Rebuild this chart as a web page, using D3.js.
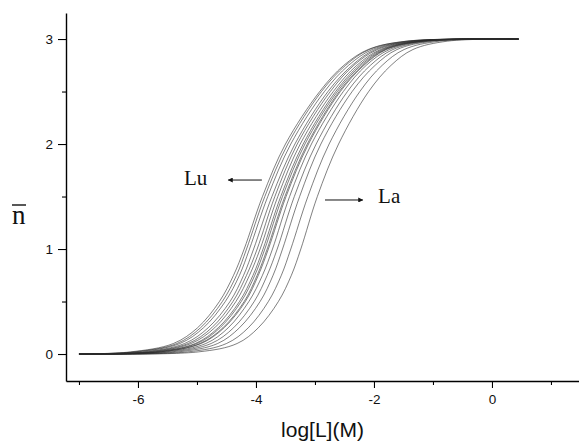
<!DOCTYPE html>
<html>
<head>
<meta charset="utf-8">
<script src="https://cdn.jsdelivr.net/npm/d3@7"></script>
<style>
  html, body { margin: 0; padding: 0; background: #fff; }
  svg { display: block; }
</style>
</head>
<body>
<div id="chart"></div>
<script>
const nbarLevels = [0.02, 0.1, 0.25, 0.5, 0.75, 1.0, 1.5, 2.0, 2.5, 2.75, 2.9, 2.98]

// log[L] where each curve reaches the level above (Lu first ... La last)
const curveLu  = [-6.13, -5.40, -4.99, -4.62, -4.38, -4.20, -3.89, -3.50, -2.92, -2.51, -2.10, -1.45]
const curve2   = [-6.07, -5.34, -4.94, -4.57, -4.33, -4.16, -3.85, -3.46, -2.89, -2.48, -2.08, -1.43]
const curve3   = [-6.02, -5.29, -4.89, -4.52, -4.28, -4.11, -3.80, -3.41, -2.84, -2.43, -2.03, -1.38]
const curve4   = [-5.92, -5.21, -4.81, -4.44, -4.21, -4.04, -3.73, -3.34, -2.78, -2.37, -1.98, -1.33]
const curve5   = [-5.85, -5.15, -4.75, -4.39, -4.16, -3.98, -3.68, -3.30, -2.74, -2.34, -1.94, -1.31]
const curve6   = [-5.80, -5.10, -4.70, -4.34, -4.11, -3.93, -3.63, -3.25, -2.69, -2.29, -1.89, -1.26]
const curve7   = [-5.73, -5.03, -4.64, -4.28, -4.05, -3.88, -3.58, -3.20, -2.65, -2.25, -1.86, -1.23]
const curve8   = [-5.70, -5.00, -4.61, -4.25, -4.02, -3.85, -3.55, -3.17, -2.62, -2.22, -1.83, -1.20]
const curve9   = [-5.64, -4.95, -4.56, -4.20, -3.98, -3.81, -3.51, -3.13, -2.59, -2.19, -1.81, -1.18]
const curve10  = [-5.62, -4.93, -4.54, -4.18, -3.96, -3.79, -3.49, -3.11, -2.57, -2.17, -1.79, -1.16]
const curve11  = [-5.54, -4.85, -4.47, -4.12, -3.89, -3.72, -3.43, -3.06, -2.52, -2.13, -1.74, -1.13]
const curve12  = [-5.44, -4.76, -4.38, -4.03, -3.81, -3.64, -3.35, -2.98, -2.45, -2.06, -1.68, -1.07]
const curve13  = [-5.32, -4.65, -4.28, -3.93, -3.71, -3.55, -3.26, -2.90, -2.37, -1.98, -1.61, -1.00]
const curve14  = [-5.16, -4.50, -4.13, -3.79, -3.57, -3.41, -3.12, -2.76, -2.24, -1.86, -1.49, -0.89]
const curveLa  = [-4.98, -4.32, -3.96, -3.62, -3.40, -3.24, -2.96, -2.60, -2.09, -1.71, -1.34, -0.75]

const curves = [curveLu, curve2, curve3, curve4, curve5, curve6, curve7, curve8,
  curve9, curve10, curve11, curve12, curve13, curve14, curveLa]

// every curve starts flat at n=0 and ends flat at n=3
const startPoint = [-7, 0]
const endPoint = [0.45, 3]

const xMajorTicks = [-6, -4, -2, 0]
const xMinorTicks = [-7, -5, -3, -1, 1]
const yMajorTicks = [0, 1, 2, 3]
const yMinorTicks = [0.5, 1.5, 2.5]

const width = 579
const height = 443

const svg = d3.select('#chart')
  .append('svg')
  .attr('width', width)
  .attr('height', height)

const x = d3.scaleLinear()
  .domain([-7.22, 1.475])
  .range([66, 579])

const y = d3.scaleLinear()
  .domain([-0.257, 3.248])
  .range([381, 13])

const line = d3.line()
  .x(d => x(d[0]))
  .y(d => y(d[1]))
  .curve(d3.curveCatmullRom.alpha(0.5))

// curves
svg.append('g')
  .selectAll('path')
  .data(curves)
  .enter()
  .append('path')
  .attr('d', c => line([startPoint, ...c.map((v, i) => [v, nbarLevels[i]]), endPoint]))
  .attr('fill', 'none')
  .attr('stroke', '#2a2a2a')
  .attr('stroke-width', 0.6)

// axes
const tickFont = '"Liberation Sans", Arial, sans-serif'
const minus = d => d < 0 ? '-' + Math.abs(d) : String(d)

const xAxis = svg.append('g')
  .attr('transform', `translate(0,${y.range()[0]})`)
  .call(d3.axisBottom(x).tickValues(xMajorTicks).tickSize(7).tickSizeOuter(0).tickFormat(minus))
xAxis.select('.domain').attr('stroke-width', 1.4)
xAxis.selectAll('.tick line').attr('stroke-width', 1.1)
xAxis.selectAll('.tick text')
  .attr('font-family', tickFont)
  .attr('font-size', 13.5)
  .attr('fill', '#111')
  .attr('dy', '0.95em')

svg.append('g')
  .attr('transform', `translate(0,${y.range()[0]})`)
  .call(d3.axisBottom(x).tickValues(xMinorTicks).tickSize(4).tickFormat(''))
  .call(g => g.select('.domain').remove())
  .selectAll('.tick line').attr('stroke-width', 1.1)

const yAxis = svg.append('g')
  .attr('transform', `translate(${x.range()[0]},0)`)
  .call(d3.axisLeft(y).tickValues(yMajorTicks).tickSize(8).tickSizeOuter(0).tickPadding(5).tickFormat(minus))
yAxis.select('.domain').attr('stroke-width', 1.4)
yAxis.selectAll('.tick line').attr('stroke-width', 1.1)
yAxis.selectAll('.tick text')
  .attr('font-family', tickFont)
  .attr('font-size', 13.5)
  .attr('fill', '#111')

svg.append('g')
  .attr('transform', `translate(${x.range()[0]},0)`)
  .call(d3.axisLeft(y).tickValues(yMinorTicks).tickSize(4).tickFormat(''))
  .call(g => g.select('.domain').remove())
  .selectAll('.tick line').attr('stroke-width', 1.1)

// axis titles
svg.append('text')
  .attr('x', (x.range()[0] + x.range()[1]) / 2)
  .attr('y', 437)
  .attr('text-anchor', 'middle')
  .attr('font-family', tickFont)
  .attr('font-size', 21)
  .attr('fill', '#111')
  .text('log[L](M)')

const serif = '"Liberation Serif", "Times New Roman", serif'

svg.append('text')
  .attr('x', 12)
  .attr('y', 224)
  .attr('font-family', serif)
  .attr('font-size', 27)
  .attr('fill', '#111')
  .text('n')

svg.append('line')
  .attr('x1', 12).attr('x2', 26)
  .attr('y1', 205).attr('y2', 205)
  .attr('stroke', '#111')
  .attr('stroke-width', 1.4)

// Lu / La annotations
svg.append('defs').append('marker')
  .attr('id', 'head')
  .attr('viewBox', '0 0 10 10')
  .attr('refX', 9).attr('refY', 5)
  .attr('markerWidth', 7).attr('markerHeight', 5)
  .attr('markerUnits', 'userSpaceOnUse')
  .attr('orient', 'auto')
  .append('path')
  .attr('d', 'M0,0L10,5L0,10Z')
  .attr('fill', '#111')

svg.append('text')
  .attr('x', x(-5.22)).attr('y', y(1.61))
  .attr('font-family', serif)
  .attr('font-size', 21)
  .attr('fill', '#111')
  .text('Lu')

svg.append('line')
  .attr('x1', x(-3.9)).attr('x2', x(-4.47))
  .attr('y1', y(1.657)).attr('y2', y(1.657))
  .attr('stroke', '#111')
  .attr('stroke-width', 1)
  .attr('marker-end', 'url(#head)')

svg.append('text')
  .attr('x', x(-1.93)).attr('y', y(1.438))
  .attr('font-family', serif)
  .attr('font-size', 21)
  .attr('fill', '#111')
  .text('La')

svg.append('line')
  .attr('x1', x(-2.83)).attr('x2', x(-2.19))
  .attr('y1', y(1.467)).attr('y2', y(1.467))
  .attr('stroke', '#111')
  .attr('stroke-width', 1)
  .attr('marker-end', 'url(#head)')
</script>
</body>
</html>
